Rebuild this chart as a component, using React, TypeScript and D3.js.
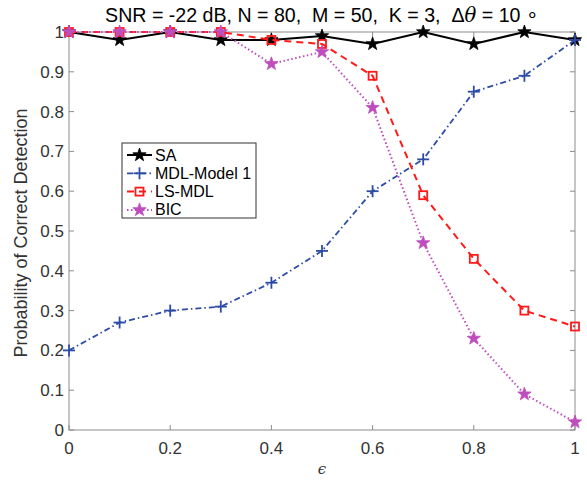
import React from "react";
import * as d3 from "d3";

const xs = [0, 0.1, 0.2, 0.3, 0.4, 0.5, 0.6, 0.7, 0.8, 0.9, 1];
const saVals = [1, 0.98, 1, 0.98, 0.98, 0.99, 0.97, 1, 0.97, 1, 0.98];
const mdlVals = [0.2, 0.27, 0.3, 0.31, 0.37, 0.45, 0.6, 0.68, 0.85, 0.89, 0.98];
const lsVals = [1, 1, 1, 1, 0.98, 0.97, 0.89, 0.59, 0.43, 0.3, 0.26];
const bicVals = [1, 1, 1, 1, 0.92, 0.95, 0.81, 0.47, 0.23, 0.09, 0.02];
const xTicks = [0, 0.2, 0.4, 0.6, 0.8, 1];
const yTicks = [0, 0.1, 0.2, 0.3, 0.4, 0.5, 0.6, 0.7, 0.8, 0.9, 1];

const W = 587, H = 482;
const L = 69, R = 575, T = 32, B = 430;
const FONT = "'Liberation Sans', Arial, Helvetica, sans-serif";

function starPath(cx: number, cy: number, r: number) {
  const pts: string[] = [];
  for (let i = 0; i < 10; i++) {
    const a = -Math.PI / 2 + (i * Math.PI) / 5;
    const rr = i % 2 === 0 ? r : r * 0.4;
    pts.push(`${cx + rr * Math.cos(a)},${cy + rr * Math.sin(a)}`);
  }
  return "M" + pts.join("L") + "Z";
}

type Series = { name: string; vals: number[]; color: string; dash: string; marker: string; width: number };
const series: Series[] = [
  { name: "SA", vals: saVals, color: "#000000", dash: "", marker: "star", width: 2 },
  { name: "MDL-Model 1", vals: mdlVals, color: "#2d4ca6", dash: "6,3,1.5,3", marker: "plus", width: 1.8 },
  { name: "LS-MDL", vals: lsVals, color: "#ff1a1a", dash: "7,5", marker: "square", width: 2 },
  { name: "BIC", vals: bicVals, color: "#bf4dbd", dash: "1.5,2.5", marker: "star", width: 2 },
];

function Marker({ s, x, y }: { s: Series; x: number; y: number }) {
  if (s.marker === "star") return <path d={starPath(x, y, 7)} fill={s.color} stroke={s.color} strokeWidth={0.8} />;
  if (s.marker === "plus")
    return (
      <g stroke={s.color} strokeWidth={1.8}>
        <line x1={x - 6} x2={x + 6} y1={y} y2={y} />
        <line x1={x} x2={x} y1={y - 6} y2={y + 6} />
      </g>
    );
  return <rect x={x - 4} y={y - 4} width={8} height={8} fill="none" stroke={s.color} strokeWidth={1.8} />;
}

export default function App() {
  const x = d3.scaleLinear().domain([0, 1]).range([L, R]);
  const y = d3.scaleLinear().domain([0, 1]).range([B, T]);
  const line = d3.line<number>().x((_, i) => x(xs[i])).y((v) => y(v));
  const axisColor = "#8c8c8c";
  const textColor = "#333333";
  const legX = 122, legY = 143, legW = 134, legH = 75;

  return (
    <svg width={W} height={H} style={{ position: "absolute", left: 0, top: 0, background: "#fff" }}>
      <rect width={W} height={H} fill="#fff" />
      <defs>
        <clipPath id="clip">
          <rect x={L - 10} y={T - 10} width={R - L + 20} height={B - T + 20} />
        </clipPath>
      </defs>
      <rect x={L} y={T} width={R - L} height={B - T} fill="none" stroke={axisColor} strokeWidth={1} />
      {xTicks.map((t) => (
        <g key={"xt" + t}>
          <line x1={x(t)} x2={x(t)} y1={B} y2={B - 5} stroke={axisColor} />
          <line x1={x(t)} x2={x(t)} y1={T} y2={T + 5} stroke={axisColor} />
          <text x={x(t)} y={B + 24} textAnchor="middle" fontFamily={FONT} fontSize={17} fill={textColor}>
            {d3.format("")(t)}
          </text>
        </g>
      ))}
      {yTicks.map((t) => (
        <g key={"yt" + t}>
          <line x1={L} x2={L + 5} y1={y(t)} y2={y(t)} stroke={axisColor} />
          <line x1={R} x2={R - 5} y1={y(t)} y2={y(t)} stroke={axisColor} />
          <text x={L - 5} y={y(t) + 6} textAnchor="end" fontFamily={FONT} fontSize={17} fill={textColor}>
            {d3.format("")(t)}
          </text>
        </g>
      ))}
      <text x={(L + R) / 2} y={474} textAnchor="middle" fontFamily="'DejaVu Serif', serif" fontStyle="italic" fontSize={15} fill={textColor}>
        ϵ
      </text>
      <text
        transform={`translate(27,233) rotate(-90)`}
        textAnchor="middle"
        fontFamily={FONT}
        fontSize={18}
        fill={textColor}
      >
        Probability of Correct Detection
      </text>
      <text x={322} y={22} textAnchor="middle" fontFamily={FONT} fontSize={19.6} fill="#000" style={{ whiteSpace: "pre" }}>
        {"SNR = -22 dB, N = 80,  M = 50,  K = 3,  Δ"}
        <tspan fontFamily="'DejaVu Serif', serif" fontStyle="italic">θ</tspan>
        {" = 10 ∘"}
      </text>
      <g clipPath="url(#clip)">
        {series.map((s) => (
          <g key={s.name}>
            <path d={line(s.vals) || ""} fill="none" stroke={s.color} strokeWidth={s.width} strokeDasharray={s.dash} />
            {s.vals.map((v, i) => (
              <Marker key={i} s={s} x={x(xs[i])} y={y(v)} />
            ))}
          </g>
        ))}
      </g>
      <rect x={legX} y={legY} width={legW} height={legH} fill="#fff" stroke="#333" strokeWidth={1} />
      {series.map((s, i) => {
        const cy = legY + 12 + i * 18.3;
        return (
          <g key={"leg" + s.name}>
            <line x1={legX + 5} x2={legX + 30} y1={cy} y2={cy} stroke={s.color} strokeWidth={s.width} strokeDasharray={s.dash} />
            <Marker s={s} x={legX + 17.5} y={cy} />
            <text x={legX + 33} y={cy + 5.5} fontFamily={FONT} fontSize={16} fill="#000">
              {s.name}
            </text>
          </g>
        );
      })}
    </svg>
  );
}
